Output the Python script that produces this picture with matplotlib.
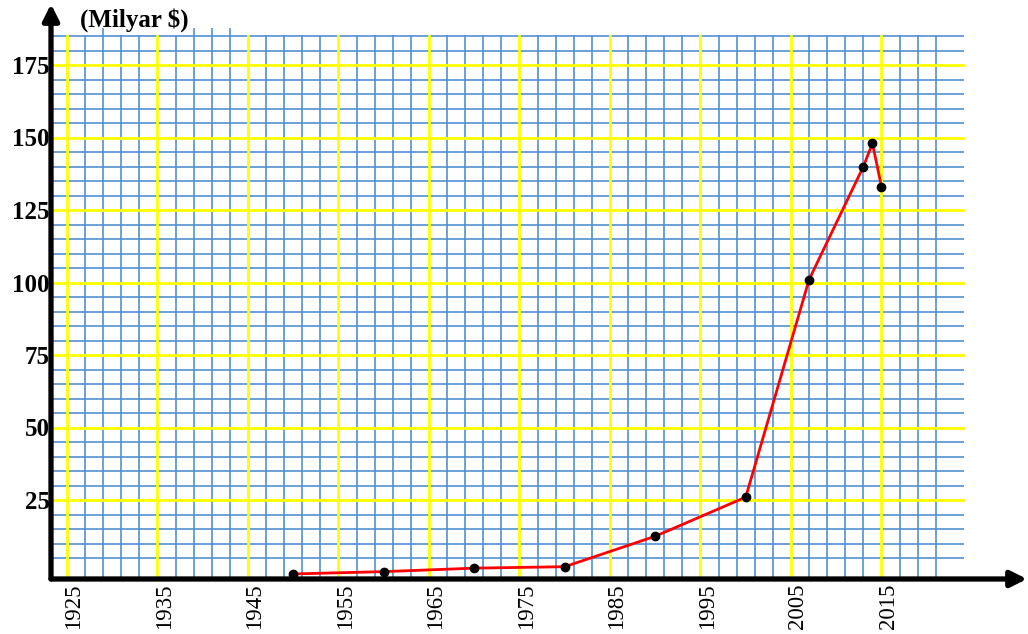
import matplotlib
matplotlib.use("Agg")
import matplotlib.pyplot as plt
import matplotlib.transforms as mtransforms
import numpy as np

# ---- data ----
years = [1950, 1960, 1970, 1980, 1990, 2000, 2007, 2013, 2014, 2015]
values = [-0.5, 0.3, 1.5, 2, 12.5, 26, 101, 140, 148, 133]
x_tick_years = [1925, 1935, 1945, 1955, 1965, 1975, 1985, 1995, 2005, 2015]
y_tick_values = [25, 50, 75, 100, 125, 150, 175]
unit_label = "(Milyar $)"

# ---- figure ----
W, H = 1028, 634
fig = plt.figure(figsize=(W / 100, H / 100), dpi=100)
left_px, right_px, bottom_px, top_px = 51, 1027, 579, 4
ax = fig.add_axes([left_px / W, (H - bottom_px) / H,
                   (right_px - left_px) / W, (bottom_px - top_px) / H])

px_per_year = 9.05
x0 = 1925 - (67 - left_px) / px_per_year
x1 = 1925 + (right_px - 67) / px_per_year
px_per_unit = 72.5 / 25
y0 = -(bottom_px - 572.5) / px_per_unit
y1 = (572.5 - top_px) / px_per_unit
ax.set_xlim(x0, x1)
ax.set_ylim(y0, y1)

grid_top = 185
grid_right = 2024
blue = "#4f90d0"
yellow = "#ffff00"

# blue grid
for yr in range(1923, 2022, 2):
    if yr in x_tick_years:
        continue
    top = grid_top
    if yr in (1929, 1939, 1941, 1943):
        top = 187.5
    ax.plot([yr, yr], [y0, top], color=blue, lw=1.4, alpha=0.85, zorder=1)
for v in range(5, grid_top + 1, 5):
    if v in y_tick_values:
        continue
    ax.plot([x0, grid_right], [v, v], color=blue, lw=1.4, alpha=0.85, zorder=1)

# yellow grid
for yr in x_tick_years:
    ax.plot([yr, yr], [y0, grid_top], color=yellow, lw=2.0, zorder=2)
for v in y_tick_values:
    ax.plot([x0, grid_right], [v, v], color=yellow, lw=2.0, zorder=2)

# data
ax.plot(years, values, color="#ff0000", lw=2.0, zorder=4)
ax.plot(years, values, "o", color="black", ms=6, zorder=5)

# axes with arrows
for s in ax.spines.values():
    s.set_visible(False)
ax.annotate("", xy=(0, 1), xytext=(0, 0), xycoords="axes fraction",
            arrowprops=dict(arrowstyle="-|>", lw=3.8, color="black",
                            mutation_scale=24, shrinkA=0, shrinkB=0),
            annotation_clip=False, zorder=6)
ax.annotate("", xy=(1.0, 0), xytext=(0, 0), xycoords="axes fraction",
            arrowprops=dict(arrowstyle="-|>", lw=3.8, color="black",
                            mutation_scale=24, shrinkA=0, shrinkB=0),
            annotation_clip=False, zorder=6)

# ticks
ax.set_xticks(x_tick_years)
ax.set_xticklabels([str(y) for y in x_tick_years], rotation=90,
                   fontfamily="Liberation Serif", fontsize=16.5)
ax.set_yticks(y_tick_values)
ax.set_yticklabels([str(v) for v in y_tick_values],
                   fontfamily="Liberation Serif", fontsize=18, fontweight="bold")
ax.tick_params(axis="both", length=0)
ax.tick_params(axis="x", pad=3)
ax.tick_params(axis="y", pad=1)
offset = mtransforms.ScaledTranslation(7 / 100, 0, fig.dpi_scale_trans)
for lab in ax.get_xticklabels():
    lab.set_transform(lab.get_transform() + offset)

fig.text(80 / W, 1 - 20 / H, unit_label, fontfamily="Liberation Serif",
         fontsize=18, fontweight="bold", ha="left", va="center")

fig.savefig("out.png", dpi=100)
